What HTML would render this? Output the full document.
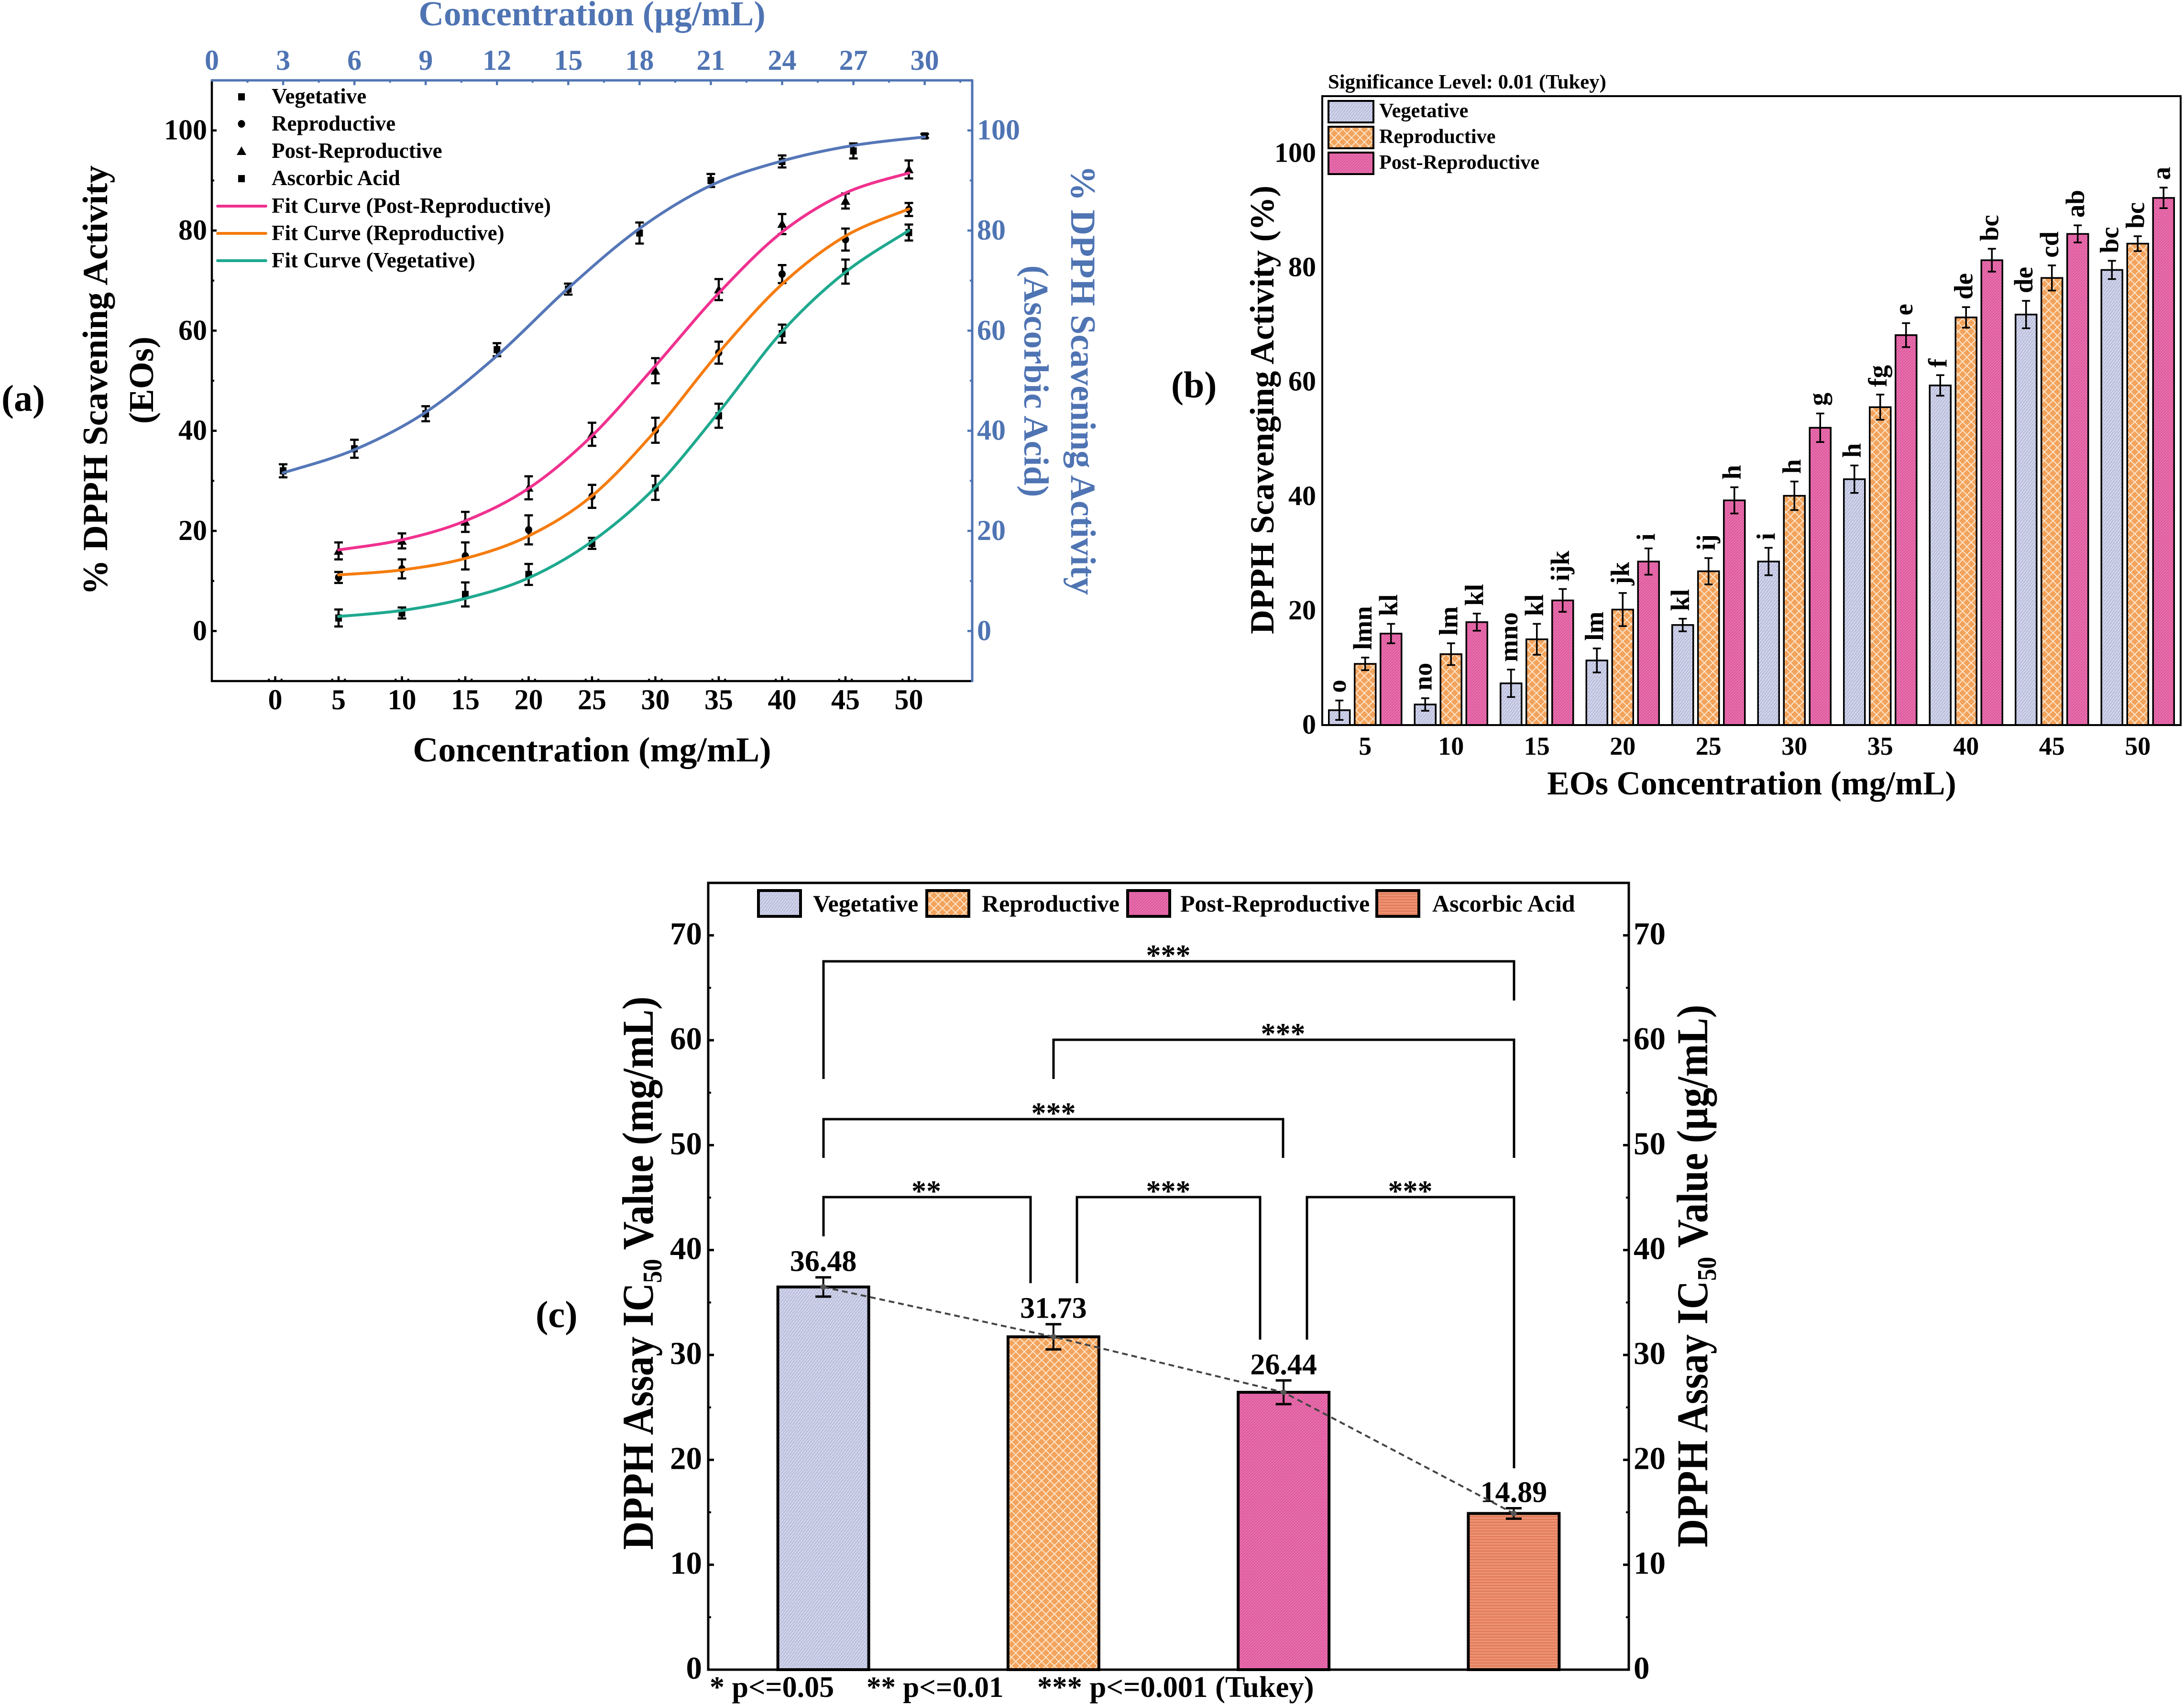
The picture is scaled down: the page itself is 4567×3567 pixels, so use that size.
<!DOCTYPE html>
<html lang="en">
<head>
<meta charset="utf-8">
<title>DPPH scavenging activity charts</title>
<style>
html,body{margin:0;padding:0;background:#fff;}
svg{display:block;}
text{font-family:"Liberation Serif",serif;font-weight:bold;fill:#000;}
.blue{fill:#4f74b3;}
</style>
</head>
<body>
<svg id="figure" xmlns="http://www.w3.org/2000/svg" width="4567" height="3567" viewBox="0 0 4567 3567">
<defs>
<pattern id="hatchVeg" width="6" height="8" patternUnits="userSpaceOnUse">
<rect width="6" height="8" fill="#bcc0de"/>
<path d="M0 8L6 0" stroke="#dfe1f0" stroke-width="1.6"/>
</pattern>
<pattern id="hatchRep" width="18" height="18" patternUnits="userSpaceOnUse">
<rect width="18" height="18" fill="#f3a35c"/>
<path d="M0 0L18 18M18 0L0 18" stroke="#fde9d2" stroke-width="1.9"/>
</pattern>
<pattern id="hatchPost" width="6" height="6" patternUnits="userSpaceOnUse">
<rect width="6" height="6" fill="#ea6fae"/>
<path d="M0 6L6 0" stroke="#cf4a90" stroke-width="1.2"/>
</pattern>
<pattern id="hatchAcid" width="6" height="6" patternUnits="userSpaceOnUse">
<rect width="6" height="6" fill="#ec9272"/>
<path d="M0 3H6" stroke="#dd6f4e" stroke-width="1.6"/>
</pattern>
</defs>

<g id="panelA">
<text x="3" y="859" font-size="78">(a)</text>
<text x="1238" y="53" font-size="73" text-anchor="middle" class="blue">Concentration (µg/mL)</text>
<text x="1238" y="1592" font-size="73.5" text-anchor="middle">Concentration (mg/mL)</text>
<text transform="translate(224,795) rotate(-90)" font-size="74" text-anchor="middle">% DPPH Scavening Activity</text>
<text transform="translate(320,795) rotate(-90)" font-size="73" text-anchor="middle">(EOs)</text>
<text transform="translate(2240,795) rotate(90)" font-size="74" text-anchor="middle" class="blue">% DPPH Scavening Activity</text>
<text transform="translate(2142,797) rotate(90)" font-size="73" text-anchor="middle" class="blue">(Ascorbic Acid)</text>
<g id="aMarks"></g>
<g id="aAxes"></g>
<g id="aLegend">
<rect x="498" y="195" width="14" height="15" fill="#000"/>
<ellipse cx="505" cy="259" rx="7.5" ry="8" fill="#000"/>
<path d="M505 306L515 324H495Z" fill="#000"/>
<rect x="498" y="366" width="14" height="15" fill="#000"/>
<line x1="455" x2="556" y1="431" y2="431" stroke="#f0318f" stroke-width="6" stroke-linecap="round"/>
<line x1="455" x2="556" y1="488" y2="488" stroke="#f57c0e" stroke-width="6" stroke-linecap="round"/>
<line x1="455" x2="556" y1="545" y2="545" stroke="#1fa98f" stroke-width="6" stroke-linecap="round"/>
<text x="568" y="216" font-size="45">Vegetative</text>
<text x="568" y="273" font-size="45">Reproductive</text>
<text x="568" y="330" font-size="45">Post-Reproductive</text>
<text x="568" y="387" font-size="45">Ascorbic Acid</text>
<text x="568" y="445" font-size="45">Fit Curve (Post-Reproductive)</text>
<text x="568" y="502" font-size="45">Fit Curve (Reproductive)</text>
<text x="568" y="559" font-size="45">Fit Curve (Vegetative)</text>
</g>
</g>

<g id="panelB">
<text x="2449" y="831" font-size="78">(b)</text>
<text x="2777" y="185" font-size="42.7">Significance Level: 0.01 (Tukey)</text>
<text x="3663" y="1661" font-size="69.7" text-anchor="middle">EOs Concentration (mg/mL)</text>
<text transform="translate(2663,857) rotate(-90)" font-size="70.5" text-anchor="middle">DPPH Scavenging Activity (%)</text>
<g id="bMarks"></g>
<g id="bAxes"></g>
<g id="bLegend">
<rect x="2778" y="211" width="94" height="45" fill="url(#hatchVeg)" stroke="#000" stroke-width="4"/>
<rect x="2778" y="265" width="94" height="45" fill="url(#hatchRep)" stroke="#000" stroke-width="4"/>
<rect x="2778" y="319" width="94" height="45" fill="url(#hatchPost)" stroke="#000" stroke-width="4"/>
<text x="2884" y="245" font-size="42.3">Vegetative</text>
<text x="2884" y="299" font-size="42.3">Reproductive</text>
<text x="2884" y="353" font-size="42.3">Post-Reproductive</text>
</g>
</g>

<g id="panelC">
<text x="1120" y="2775" font-size="79">(c)</text>
<text transform="translate(1365,2662) rotate(-90) scale(0.895,1)" font-size="92" text-anchor="middle">DPPH Assay IC<tspan dy="18" font-size="56">50</tspan><tspan dy="-18"> Value (mg/mL)</tspan></text>
<text transform="translate(3570,2668) rotate(-90) scale(0.894,1)" font-size="92" text-anchor="middle">DPPH Assay IC<tspan dy="18" font-size="56">50</tspan><tspan dy="-18"> Value (µg/mL)</tspan></text>
<text x="1484" y="3548" font-size="62">* p&lt;=0.05</text>
<text x="1812" y="3548" font-size="61">** p&lt;=0.01</text>
<text x="2169" y="3548" font-size="62.6">*** p&lt;=0.001 (Tukey)</text>
<g id="cMarks"></g>
<g id="cBrackets">
<path d="M1722 2256V2010H3166V2092" fill="none" stroke="#000" stroke-width="5"/>
<path d="M2203 2256V2174H3166V2421" fill="none" stroke="#000" stroke-width="5"/>
<path d="M1722 2421V2340H2683V2421" fill="none" stroke="#000" stroke-width="5"/>
<path d="M1722 2585V2503H2155V2683" fill="none" stroke="#000" stroke-width="5"/>
<path d="M2252 2683V2503H2635V2801" fill="none" stroke="#000" stroke-width="5"/>
<path d="M2733 2801V2503H3166V3070" fill="none" stroke="#000" stroke-width="5"/>
<text x="2443" y="2018" font-size="62" text-anchor="middle">***</text>
<text x="2683" y="2182" font-size="62" text-anchor="middle">***</text>
<text x="2203" y="2348" font-size="62" text-anchor="middle">***</text>
<text x="1937" y="2511" font-size="62" text-anchor="middle">**</text>
<text x="2443" y="2511" font-size="62" text-anchor="middle">***</text>
<text x="2949" y="2511" font-size="62" text-anchor="middle">***</text>
</g>
<g id="cAxes"></g>
<g id="cLegend">
<rect x="1586" y="1862" width="88" height="54" fill="url(#hatchVeg)" stroke="#000" stroke-width="6"/>
<rect x="1938" y="1862" width="88" height="54" fill="url(#hatchRep)" stroke="#000" stroke-width="6"/>
<rect x="2358" y="1862" width="88" height="54" fill="url(#hatchPost)" stroke="#000" stroke-width="6"/>
<rect x="2879" y="1862" width="88" height="54" fill="url(#hatchAcid)" stroke="#000" stroke-width="6"/>
<text x="1700" y="1906" font-size="50">Vegetative</text>
<text x="2053" y="1906" font-size="50">Reproductive</text>
<text x="2468" y="1906" font-size="50">Post-Reproductive</text>
<text x="2995" y="1906" font-size="50">Ascorbic Acid</text>
</g>
</g>
</svg>

<script>
// ---- shared categories and measured values ----
const concentrations = [5, 10, 15, 20, 25, 30, 35, 40, 45, 50];
const vegMeans = [2.6, 3.6, 7.3, 11.3, 17.5, 28.6, 43.0, 59.4, 71.8, 79.6];
const vegErrors = [1.7, 1.1, 2.4, 2.1, 1.1, 2.4, 2.4, 1.8, 2.4, 1.6];
const repMeans = [10.7, 12.4, 15.0, 20.2, 26.9, 40.1, 55.6, 71.3, 78.2, 84.2];
const repErrors = [1.1, 1.9, 2.7, 2.9, 2.3, 2.5, 2.2, 1.8, 2.2, 1.3];
const postMeans = [16.0, 18.0, 21.8, 28.6, 39.3, 52.0, 68.2, 81.3, 85.9, 92.2];
const postErrors = [1.7, 1.5, 2.0, 2.3, 2.3, 2.5, 2.1, 2.0, 1.5, 1.8];

// ---- panel a: ascorbic acid and fitted curves ----
const acidConcentrations = [3, 6, 9, 12, 15, 18, 21, 24, 27, 30];
const acidMeans = [32.0, 36.4, 43.4, 56.2, 68.3, 79.5, 90.0, 93.8, 95.9, 98.9];
const acidErrors = [1.3, 1.8, 1.5, 1.3, 1.1, 2.1, 1.3, 1.2, 1.5, 0.4];
const acidFit = [31.6, 36.2, 43.7, 55.0, 68.5, 80.4, 89.0, 93.9, 97.0, 98.7];
const postFit = [16.2, 18.2, 22.0, 28.5, 39.0, 53.0, 67.5, 79.7, 87.5, 91.5];
const repFit = [11.2, 12.2, 14.5, 19.0, 27.0, 40.0, 55.6, 69.3, 78.9, 84.3];
const vegFit = [2.9, 4.1, 6.5, 10.6, 17.9, 28.7, 43.7, 59.8, 71.7, 80.0];
const aYTicks = [0, 20, 40, 60, 80, 100];
const aBottomTicks = [0, 5, 10, 15, 20, 25, 30, 35, 40, 45, 50];
const aTopTicks = [0, 3, 6, 9, 12, 15, 18, 21, 24, 27, 30];

// ---- panel b: Tukey letters and ticks ----
const vegLetters = ['o', 'no', 'mno', 'lm', 'kl', 'i', 'h', 'f', 'de', 'bc'];
const repLetters = ['lmn', 'lm', 'kl', 'jk', 'ij', 'h', 'fg', 'de', 'cd', 'bc'];
const postLetters = ['kl', 'kl', 'ijk', 'i', 'h', 'g', 'e', 'bc', 'ab', 'a'];
const bYTicks = [0, 20, 40, 60, 80, 100];

// ---- panel c: IC50 ----
const icGroups = ['vegetative', 'reproductive', 'post-reproductive', 'ascorbic-acid'];
const icValues = [36.48, 31.73, 26.44, 14.89];
const icErrors = [0.92, 1.2, 1.13, 0.5];
const cYTicks = [0, 10, 20, 30, 40, 50, 60, 70];

const SVGNS = 'http://www.w3.org/2000/svg';
const BLUE = '#4f74b3';

function make(tag, props, parent, name) {
  const e = document.createElementNS(SVGNS, tag);
  Object.keys(props).forEach(function (k) { e.setAttribute(k, props[k]); });
  
  
  parent.appendChild(e);
  return e;
}
function label(str, x, y, size, anchor, fill, parent, name, transform) {
  const props = { x: x, y: y, 'font-size': size, 'text-anchor': anchor };
  if (fill) props.style = 'fill:' + fill;
  if (transform) props.transform = transform;
  const t = make('text', props, parent, name);
  t.textContent = str;
  return t;
}
function seg(x1, y1, x2, y2, color, width, parent, name) {
  return make('line', { x1: x1, y1: y1, x2: x2, y2: y2, stroke: color, 'stroke-width': width }, parent, name);
}
function smoothPath(pts) {
  let d = 'M' + pts[0][0].toFixed(1) + ' ' + pts[0][1].toFixed(1);
  for (let i = 0; i < pts.length - 1; i++) {
    const p0 = pts[Math.max(i - 1, 0)], p1 = pts[i], p2 = pts[i + 1], p3 = pts[Math.min(i + 2, pts.length - 1)];
    const c1x = p1[0] + (p2[0] - p0[0]) / 6, c1y = p1[1] + (p2[1] - p0[1]) / 6;
    const c2x = p2[0] - (p3[0] - p1[0]) / 6, c2y = p2[1] - (p3[1] - p1[1]) / 6;
    d += 'C' + c1x.toFixed(1) + ' ' + c1y.toFixed(1) + ' ' + c2x.toFixed(1) + ' ' + c2y.toFixed(1) + ' ' + p2[0].toFixed(1) + ' ' + p2[1].toFixed(1);
  }
  return d;
}
function errorBar(x, yHi, yLo, capW, stem, capT, parent, name) {
  seg(x, yHi, x, yLo, '#000', stem, parent, name + '-stem');
  seg(x - capW / 2, yHi, x + capW / 2, yHi, '#000', capT, parent, name + '-cap-top');
  seg(x - capW / 2, yLo, x + capW / 2, yLo, '#000', capT, parent, name + '-cap-bottom');
}

// ================= PANEL A =================
(function () {
  const L = 443, R = 2033, T = 168, B = 1424;
  const xBottom = function (v) { return L + (v + 5) * (R - L) / 60; };
  const xTop = function (v) { return L + v * (R - L) / 32; };
  const y = function (v) { return B - (v + 10) * (B - T) / 120; };
  const marks = document.getElementById('aMarks');
  const axes = document.getElementById('aAxes');

  function points(xs, xf, means, errs, shape, name) {
    means.forEach(function (m, i) {
      const px = xf(xs[i]), py = y(m);
      errorBar(px, y(m + errs[i]), y(m - errs[i]), 18, 4.5, 4.5, marks, name + '-error-bar');
      if (shape === 'square') make('rect', { x: px - 7, y: py - 7.5, width: 14, height: 15, fill: '#000' }, marks, name + '-point');
      if (shape === 'circle') make('ellipse', { cx: px, cy: py, rx: 7.5, ry: 8, fill: '#000' }, marks, name + '-point');
      if (shape === 'triangle') make('path', { d: 'M' + px + ' ' + (py - 10) + 'L' + (px + 10) + ' ' + (py + 8) + 'H' + (px - 10) + 'Z', fill: '#000' }, marks, name + '-point');
    });
  }
  points(concentrations, xBottom, vegMeans, vegErrors, 'square', 'vegetative');
  points(concentrations, xBottom, repMeans, repErrors, 'circle', 'reproductive');
  points(concentrations, xBottom, postMeans, postErrors, 'triangle', 'post-reproductive');
  points(acidConcentrations, xTop, acidMeans, acidErrors, 'square', 'ascorbic-acid');

  function curve(xs, xf, vals, color, name) {
    const pts = vals.map(function (v, i) { return [xf(xs[i]), y(v)]; });
    make('path', { d: smoothPath(pts), fill: 'none', stroke: color, 'stroke-width': 6, 'stroke-linecap': 'round' }, marks, name);
  }
  curve(acidConcentrations, xTop, acidFit, '#5577b8', 'fit-curve-ascorbic-acid');
  curve(concentrations, xBottom, postFit, '#f0318f', 'fit-curve-post-reproductive');
  curve(concentrations, xBottom, repFit, '#f57c0e', 'fit-curve-reproductive');
  curve(concentrations, xBottom, vegFit, '#1fa98f', 'fit-curve-vegetative');

  aYTicks.forEach(function (v) {
    seg(L, y(v), L + 10, y(v), '#000', 4.5, axes, 'left-major-tick');
    seg(R, y(v), R - 10, y(v), BLUE, 4.5, axes, 'right-major-tick');
    label(String(v), 433, y(v) + 19, 60, 'end', null, axes, 'left-tick-label');
    label(String(v), 2043, y(v) + 19, 60, 'start', BLUE, axes, 'right-tick-label');
    const minor = y(v + (aYTicks[1] - aYTicks[0]) / 2);
    if (minor > T) {
      seg(L, minor, L + 5, minor, '#000', 4, axes, 'left-minor-tick');
      seg(R, minor, R - 5, minor, BLUE, 4, axes, 'right-minor-tick');
    }
  });
  aBottomTicks.forEach(function (v) {
    seg(xBottom(v), B, xBottom(v), B - 10, '#000', 4.5, axes, 'bottom-major-tick');
    seg(xBottom(v) + 13.25, B, xBottom(v) + 13.25, B - 5, '#000', 4, axes, 'bottom-minor-tick');
    seg(xBottom(v) - 13.25, B, xBottom(v) - 13.25, B - 5, '#000', 4, axes, 'bottom-minor-tick');
    label(String(v), xBottom(v), 1483, 60, 'middle', null, axes, 'bottom-tick-label');
  });
  aTopTicks.forEach(function (v) {
    seg(xTop(v), T, xTop(v), T + 10, BLUE, 4.5, axes, 'top-major-tick');
    seg(xTop(v + 1.5), T, xTop(v + 1.5), T + 5, BLUE, 4, axes, 'top-minor-tick');
    label(String(v), xTop(v), 146, 60, 'middle', BLUE, axes, 'top-tick-label');
  });
  seg(L, T, L, B + 2, '#000', 4.5, axes, 'left-axis-line');
  seg(L - 2, B, R, B, '#000', 4.5, axes, 'bottom-axis-line');
  seg(L - 2, T, R + 2, T, BLUE, 5, axes, 'top-axis-line');
  seg(R, T, R, B + 2, BLUE, 5, axes, 'right-axis-line');
})();

// ================= PANEL B =================
(function () {
  const L = 2765, R = 4560, T = 201, B = 1516;
  const y = function (v) { return B - v * (B - T) / 110; };
  const band = function (i) { return L + (i + 0.5) * (R - L) / concentrations.length; };
  const marks = document.getElementById('bMarks');
  const axes = document.getElementById('bAxes');
  const BAR = 44, STEP = 54;

  function series(means, errs, letters, fill, offset, name) {
    means.forEach(function (m, i) {
      const c = band(i) + offset * STEP;
      make('rect', { x: c - BAR / 2, y: y(m), width: BAR, height: B - y(m), fill: fill, stroke: '#000', 'stroke-width': 3.5 }, marks, 'bar-' + name + '-' + concentrations[i]);
    });
    means.forEach(function (m, i) {
      const c = band(i) + offset * STEP;
      const top = y(m + errs[i]);
      errorBar(c, top, y(m - errs[i]), 17, 3.5, 3.5, marks, 'error-bar-' + name);
      label(letters[i], 0, 0, 55, 'start', null, marks, 'tukey-letter-' + name, 'translate(' + (c + 13) + ',' + (top - 16) + ') rotate(-90)');
    });
  }
  series(vegMeans, vegErrors, vegLetters, 'url(#hatchVeg)', -1, 'vegetative');
  series(repMeans, repErrors, repLetters, 'url(#hatchRep)', 0, 'reproductive');
  series(postMeans, postErrors, postLetters, 'url(#hatchPost)', 1, 'post-reproductive');

  make('rect', { x: L, y: T, width: R - L, height: B - T, fill: 'none', stroke: '#000', 'stroke-width': 4 }, axes, 'plot-frame');
  bYTicks.forEach(function (v) {
    label(String(v), 2752, y(v) + 18, 58, 'end', null, axes, 'y-tick-label');
  });
  concentrations.forEach(function (v, i) {
    label(String(v), band(i), 1578, 54, 'middle', null, axes, 'x-tick-label');
  });
})();

// ================= PANEL C =================
(function () {
  const L = 1481, R = 3406, T = 1846, B = 3491;
  const y = function (v) { return B - v * (B - T) / 75; };
  const band = function (i) { return L + (i + 0.5) * (R - L) / icValues.length; };
  const marks = document.getElementById('cMarks');
  const axes = document.getElementById('cAxes');
  const fills = ['url(#hatchVeg)', 'url(#hatchRep)', 'url(#hatchPost)', 'url(#hatchAcid)'];
  const W = 190;

  icValues.forEach(function (v, i) {
    make('rect', { x: band(i) - W / 2, y: y(v), width: W, height: B - y(v), fill: fills[i], stroke: '#000', 'stroke-width': 6 }, marks, 'bar-' + icGroups[i]);
  });
  icValues.forEach(function (v, i) {
    errorBar(band(i), y(v + icErrors[i]), y(v - icErrors[i]), 33, 4, 5, marks, 'error-bar-' + icGroups[i]);
    label(v.toFixed(2), band(i), y(v + icErrors[i]) - 13, 62, 'middle', null, marks, 'value-label-' + icGroups[i]);
  });
  const trend = icValues.map(function (v, i) { return band(i) + ' ' + y(v); }).join(' L');
  make('path', { d: 'M' + trend, fill: 'none', stroke: '#444', 'stroke-width': 4, 'stroke-dasharray': '12 8' }, marks, 'trend-line');
  icValues.forEach(function (v, i) {
    make('circle', { cx: band(i), cy: y(v), r: 6, fill: '#555' }, marks, 'trend-point-' + icGroups[i]);
  });

  make('rect', { x: L, y: T, width: R - L, height: B - T, fill: 'none', stroke: '#000', 'stroke-width': 5 }, axes, 'plot-frame');
  cYTicks.forEach(function (v) {
    seg(L, y(v), L + 12, y(v), '#000', 5, axes, 'left-major-tick');
    seg(R, y(v), R - 12, y(v), '#000', 5, axes, 'right-major-tick');
    seg(L, y(v + 5), L + 6, y(v + 5), '#000', 4, axes, 'left-minor-tick');
    seg(R, y(v + 5), R - 6, y(v + 5), '#000', 4, axes, 'right-minor-tick');
    label(String(v), 1468, y(v) + 19, 67, 'end', null, axes, 'left-tick-label');
    label(String(v), 3416, y(v) + 19, 67, 'start', null, axes, 'right-tick-label');
  });
})();
</script>
</body>
</html>
